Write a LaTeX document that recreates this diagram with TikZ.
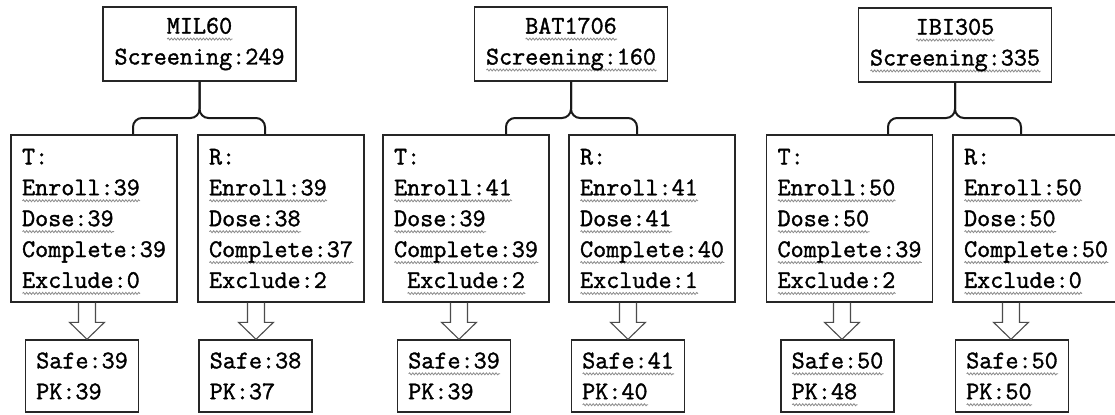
\documentclass[tikz,border=0pt]{standalone}
\usepackage{fontspec}
\setmonofont{Latin Modern Mono}[FakeBold=1.4]
\usetikzlibrary{calc,decorations.pathmorphing}

% light wavy underline (spell-check style)
\newsavebox\sqbox
\newdimen\sqwd
\newcommand\sq[1]{%
  \sbox\sqbox{#1}\sqwd=\wd\sqbox
  \rlap{\smash{\tikz[baseline=0pt,x=1bp,y=1bp]
    \draw[black!45,line width=0.8bp,decorate,
      decoration={snake,amplitude=1bp,segment length=3.2bp}]
      (0,-5.5) -- (\the\sqwd,-5.5);}}%
  \usebox\sqbox}

% hollow down arrow: #1 source node, #2 target node, #3 horizontal offset of the tip
\newcommand\hollow[3]{%
  \coordinate (tip) at ($(#2.north)+(#3,0)$);
  \draw[flow] ($(tip |- #1.south)+(8.5,0)$) -- ($(tip)+(8.5,-17)$) -- ($(tip)+(17.5,-17)$)
    -- (tip) -- ($(tip)+(-17.5,-17)$) -- ($(tip)+(-8.5,-17)$) -- ($(tip |- #1.south)+(-8.5,0)$);
}

% brace from a study box down to its two arm boxes
\newcommand\armbrace[5]{% #1 top node, #2 left arm, #3 right arm, #4 left end x, #5 right end x
  \coordinate (bl) at (#4,118);
  \coordinate (br) at (#5,118);
  \draw[link] (#2.north -| bl) -- (bl) -- (#1.south |- bl) -- (#1.south);
  \draw[link] (#3.north -| br) -- (br) -- (#1.south |- br) -- (#1.south);
}

\begin{document}
\begin{tikzpicture}[x=1bp,y=-1bp,
  every node/.style={font=\ttfamily\fontsize{25.5}{31}\selectfont, text=black},
  box/.style={draw=black!85, line width=1.4bp, inner sep=0pt, align=left},
  head/.style={box, align=center, minimum width=193bp, minimum height=74bp},
  grp/.style={box, minimum width=166bp, minimum height=167bp},
  res/.style={box, minimum width=113bp, minimum height=72bp},
  link/.style={draw=black!90, line width=2bp, rounded corners=9bp},
  flow/.style={draw=black!70, line width=1.1bp, line join=miter}
]
\useasboundingbox (0,0) rectangle (1115,414);
\fill[white] (0,0) rectangle (1115,414);

% study boxes
\node[head] (m) at (199.5,44) {\sq{MIL60}\\Screening:249};
\node[head] (b) at (571,44) {\sq{BAT1706}\\\sq{Screening:160}};
\node[head] (i) at (955,45) {\sq{IBI305}\\\sq{Screening:335}};

% arm boxes
\node[grp] (mT) at (94,218.5) {T:\\\sq{Enroll:39}\\\sq{Dose:39}\\Complete:39\\\sq{Exclude:0}};
\node[grp] (mR) at (281,218.5) {R:\\\sq{Enroll:39}\\\sq{Dose:38}\\\sq{Complete:37}\\Exclude:2};
\node[grp] (bT) at (466,218.5) {T:\\\sq{Enroll:41}\\\sq{Dose:39}\\\sq{Complete:39}\\\hphantom{E}\sq{Exclude:2}};
\node[grp] (bR) at (652,218.5) {R:\\\sq{Enroll:41}\\\sq{Dose:41}\\\sq{Complete:40}\\\sq{Exclude:1}};
\node[grp] (iT) at (849.5,218.5) {T:\\\sq{Enroll:50}\\\sq{Dose:50}\\\sq{Complete:39}\\\sq{Exclude:2}};
\node[grp] (iR) at (1036,218.5) {R:\\\sq{Enroll:50}\\\sq{Dose:50}\\\sq{Complete:50}\\\sq{Exclude:0}};

% analysis sets
\node[res] (mS) at (82,376) {Safe:39\\PK:39};
\node[res] (mP) at (255.5,376) {Safe:38\\PK:37};
\node[res] (bS) at (454,376) {\sq{Safe:39}\\PK:39};
\node[res] (bP) at (628,376) {\sq{Safe:41}\\\sq{PK:40}};
\node[res] (iS) at (837.5,376) {\sq{Safe:50}\\\sq{PK:48}};
\node[res] (iP) at (1012,376) {\sq{Safe:50}\\\sq{PK:50}};

% braces
\armbrace{m}{mT}{mR}{133}{265}
\armbrace{b}{bT}{bR}{506}{637}
\armbrace{i}{iT}{iR}{888}{1021}

% arrows
\hollow{mT}{mS}{5}
\hollow{mR}{mP}{0.5}
\hollow{bT}{bS}{5}
\hollow{bR}{bP}{0}
\hollow{iT}{iS}{4.5}
\hollow{iR}{iP}{-1}
\end{tikzpicture}
\end{document}
